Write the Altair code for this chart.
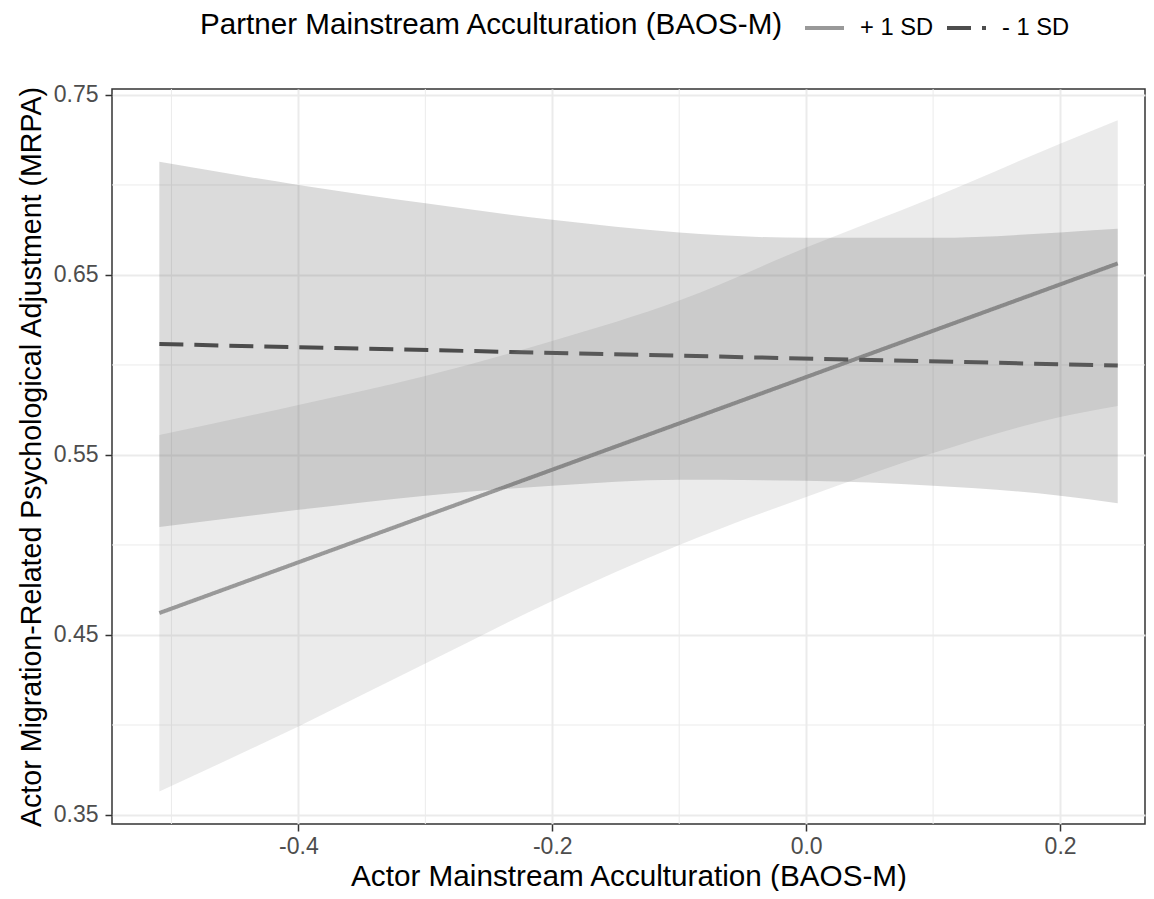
import altair as alt
import pandas as pd

# ---- data ----
groups = ["+ 1 SD", "- 1 SD"]
line_colors = ["#999999", "#4d4d4d"]

# fitted lines (endpoints)
line_x = [-0.5095, 0.2454]
plus_line_y = [0.4622, 0.6564]
minus_line_y = [0.6116, 0.5997]

# confidence ribbons
rib_x = [-0.5095, -0.4, -0.3, -0.2, -0.1, 0.0, 0.1, 0.2, 0.2454]
plus_lo = [0.3631, 0.3992, 0.4341, 0.4689, 0.5000, 0.5267, 0.5511, 0.5711, 0.5772]
plus_hi = [0.5611, 0.5778, 0.5939, 0.6133, 0.6358, 0.6652, 0.6930, 0.7229, 0.7359]
minus_lo = [0.5100, 0.5195, 0.5274, 0.5329, 0.5362, 0.5357, 0.5329, 0.5274, 0.5232]
minus_hi = [0.7129, 0.7000, 0.6898, 0.6806, 0.6736, 0.6706, 0.6706, 0.6736, 0.6756]

x_major = [-0.4, -0.2, 0.0, 0.2]
x_minor = [-0.5, -0.3, -0.1, 0.1]
y_major = [0.35, 0.45, 0.55, 0.65, 0.75]
y_minor = [0.40, 0.50, 0.60, 0.70]

x_domain = [-0.5468, 0.2669]
y_domain = [0.3450, 0.7533]

# ---- tables ----
lines_df = pd.DataFrame({
    "x": line_x + line_x,
    "y": plus_line_y + minus_line_y,
    "group": [groups[0]] * 2 + [groups[1]] * 2,
})
rib_df = pd.DataFrame({
    "x": rib_x + rib_x,
    "lo": plus_lo + minus_lo,
    "hi": plus_hi + minus_hi,
    "group": [groups[0]] * len(rib_x) + [groups[1]] * len(rib_x),
})
xminor_df = pd.DataFrame({"v": x_minor})
yminor_df = pd.DataFrame({"v": y_minor})

FONT = "Liberation Sans"
W, H = 1033, 735

xscale = alt.Scale(domain=x_domain, nice=False, zero=False)
yscale = alt.Scale(domain=y_domain, nice=False, zero=False)

x_axis = alt.Axis(
    values=x_major,
    labelExpr="(datum.value < -0.0001 ? '-' : '') + format(abs(datum.value), '.1f')",
    labelPadding=4,
    title="Actor Mainstream Acculturation (BAOS-M)",
    titleX=W / 2, titleY=61, titleBaseline="alphabetic", titleAlign="center",
    titleFontSize=29.7,
)
y_axis = alt.Axis(
    values=y_major,
    format=".2f",
    labelPadding=7,
    title="Actor Migration-Related Psychological Adjustment (MRPA)",
    titleX=-72, titleY=H / 2, titleBaseline="alphabetic", titleAlign="center",
    titleAngle=270, titleFontSize=28.6,
)

minor_x = alt.Chart(xminor_df).mark_rule(color="#ebebeb", strokeWidth=1).encode(
    x=alt.X("v:Q", scale=xscale, axis=x_axis)
)
minor_y = alt.Chart(yminor_df).mark_rule(color="#ebebeb", strokeWidth=1).encode(
    y=alt.Y("v:Q", scale=yscale, axis=y_axis)
)

lines = alt.Chart(lines_df).mark_line(strokeWidth=4).encode(
    x=alt.X("x:Q", scale=xscale, axis=x_axis),
    y=alt.Y("y:Q", scale=yscale, axis=y_axis),
    color=alt.Color("group:N", scale=alt.Scale(domain=groups, range=line_colors),
                    title="Partner Mainstream Acculturation (BAOS-M)"),
    strokeDash=alt.StrokeDash("group:N", scale=alt.Scale(domain=groups, range=[[1, 0], [24, 11]]),
                              title="Partner Mainstream Acculturation (BAOS-M)"),
)

rib_plus = alt.Chart(rib_df).transform_filter(alt.datum.group == groups[0]).mark_area(
    color=line_colors[0], opacity=0.2, interpolate="monotone"
).encode(
    x=alt.X("x:Q", scale=xscale),
    y=alt.Y("lo:Q", scale=yscale),
    y2="hi:Q",
)
rib_minus = alt.Chart(rib_df).transform_filter(alt.datum.group == groups[1]).mark_area(
    color=line_colors[1], opacity=0.2, interpolate="monotone"
).encode(
    x=alt.X("x:Q", scale=xscale),
    y=alt.Y("lo:Q", scale=yscale),
    y2="hi:Q",
)

chart = alt.layer(minor_x, minor_y, lines, rib_plus, rib_minus).properties(
    width=W, height=H,
    autosize=alt.AutoSizeParams(type="none"),
    padding={"left": 104, "top": 81, "right": 1, "bottom": 67},
).configure(
    font=FONT,
).configure_view(
    stroke="#333333", strokeWidth=1.5, fill="white",
).configure_axis(
    grid=True, gridColor="#ebebeb", gridWidth=2,
    domain=False,
    tickColor="#333333", tickWidth=1.5, tickSize=7,
    labelColor="#4d4d4d", labelFontSize=23, labelFont=FONT,
    titleColor="black", titleFont=FONT, titleFontWeight="normal",
).configure_legend(
    orient="none", legendX=88, legendY=-83,
    direction="horizontal",
    titleOrient="left", titleBaseline="bottom", titleAnchor="end",
    titleFontSize=29.6, titleFont=FONT, titleFontWeight="normal", titleColor="black",
    titlePadding=19, titleLimit=1000,
    labelFontSize=23.7, labelFont=FONT, labelColor="black", labelOffset=14,
    symbolType="stroke", symbolSize=1521, symbolStrokeWidth=4,
    columnPadding=5,
)

chart.save("out.html", embed_options={"renderer": "svg", "actions": False})
